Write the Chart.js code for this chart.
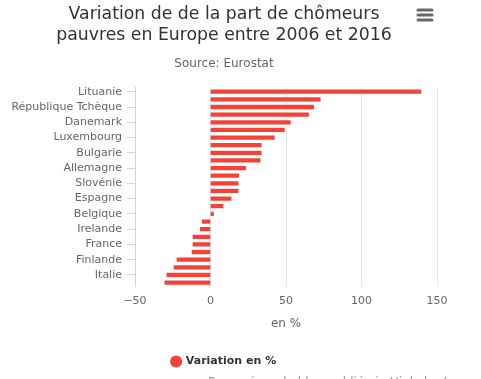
<!DOCTYPE html>
<html>
<head>
<meta charset="utf-8">
<script src="https://cdn.jsdelivr.net/npm/chart.js@4/dist/chart.umd.min.js"></script>
<style>
  html, body { margin: 0; padding: 0; background: #fff; }
  #wrap { position: relative; width: 448px; height: 379px; }
</style>
</head>
<body>
<div id="wrap"><canvas id="c"></canvas></div>
<script>
const titleLines = ["Variation de de la part de chômeurs", "pauvres en Europe entre 2006 et 2016"];
const subtitleText = "Source: Eurostat";
const seriesName = "Variation en %";
const xAxisTitle = "en %";
const creditsText = "Proposé par le blog publié via Highcharts Cloud";

const categories = [
  "Lituanie", "Estonie", "République Tchèque", "Lettonie", "Danemark", "Suède",
  "Luxembourg", "Pays-Bas", "Bulgarie", "Hongrie", "Allemagne", "Slovaquie",
  "Slovénie", "Roumanie", "Espagne", "Autriche", "Belgique", "Malte",
  "Irelande", "Portugal", "France", "Royaume-Uni", "Finlande", "Chypre",
  "Italie", "Pologne"
];
const values = [
  139.3, 72.7, 68.3, 64.9, 52.9, 48.9,
  42.3, 33.6, 33.6, 32.9, 23.3, 18.7,
  18.3, 18.3, 13.6, 8.3, 2.0, -5.5,
  -6.7, -11.6, -11.6, -12.2, -22.2, -24.2,
  -28.9, -30.2
];
const xTicks = [-50, 0, 50, 100, 150];

const FONT = "'DejaVu Sans', Verdana, sans-serif";
const RED = "#f44336";

const extras = {
  id: "extras",
  afterDraw(chart) {
    const ctx = chart.ctx;
    ctx.save();
    // menu icon
    ctx.strokeStyle = "#666666";
    ctx.lineWidth = 3;
    ctx.lineCap = "round";
    [10, 15, 20].forEach(y => {
      ctx.beginPath();
      ctx.moveTo(418, y);
      ctx.lineTo(432, y);
      ctx.stroke();
    });
    // credits (cut off at the bottom)
    ctx.fillStyle = "#999999";
    ctx.font = "12px " + FONT;
    ctx.textBaseline = "top";
    ctx.textAlign = "left";
    ctx.fillText(creditsText, 208, 377);
    ctx.restore();
  }
};

new Chart(document.getElementById("c"), {
  type: "bar",
  data: {
    labels: categories,
    datasets: [{
      label: seriesName,
      data: values,
      backgroundColor: RED,
      borderWidth: 0,
      barThickness: 3.6,
      pointStyle: "circle"
    }]
  },
  plugins: [extras],
  options: {
    indexAxis: "y",
    responsive: true,
    maintainAspectRatio: false,
    animation: false,
    layout: { padding: { left: 0, right: 0, top: 0, bottom: 2 } },
    plugins: {
      tooltip: { enabled: false },
      title: {
        display: true,
        text: titleLines,
        color: "#333333",
        font: { family: FONT, size: 17.3, weight: "normal" },
        padding: { top: 4, bottom: 9 }
      },
      subtitle: {
        display: true,
        text: subtitleText,
        color: "#666666",
        font: { family: FONT, size: 12, weight: "normal" },
        padding: { top: 2, bottom: 17 }
      },
      legend: {
        position: "bottom",
        labels: {
          usePointStyle: true,
          boxWidth: 8.5,
          boxHeight: 8.5,
          padding: 10,
          color: "#333333",
          font: { family: FONT, size: 11, weight: "bold" }
        }
      }
    },
    scales: {
      x: {
        type: "linear",
        min: xTicks[0],
        max: xTicks[xTicks.length - 1],
        afterBuildTicks(scale) { scale.ticks = xTicks.map(v => ({ value: v })); },
        afterFit(scale) { scale.paddingRight = 11; },
        grid: { color: "#e6e6e6", drawTicks: false, lineWidth: 1 },
        border: { display: false },
        ticks: {
          color: "#666666",
          padding: 8,
          font: { family: FONT, size: 11 },
          callback: v => (v < 0 ? "\u2212" + Math.abs(v) : String(v))
        },
        title: {
          display: true,
          text: xAxisTitle,
          color: "#666666",
          font: { family: FONT, size: 12 },
          padding: { top: 1, bottom: 15 }
        }
      },
      y: {
        type: "category",
        offset: true,
        afterFit(scale) { scale.width = 135; },
        grid: {
          offset: false,
          drawOnChartArea: false,
          drawTicks: true,
          tickLength: 8,
          color: ctx => (ctx.index % 2 === 0 ? "#ccd6eb" : "rgba(0,0,0,0)")
        },
        border: { display: true, color: "#ccd6eb", width: 1 },
        ticks: {
          autoSkip: false,
          color: "#666666",
          padding: 5,
          font: { family: FONT, size: 11 },
          callback: (v, i) => (i % 2 === 0 ? categories[i] : "")
        }
      }
    }
  }
});
</script>
</body>
</html>
